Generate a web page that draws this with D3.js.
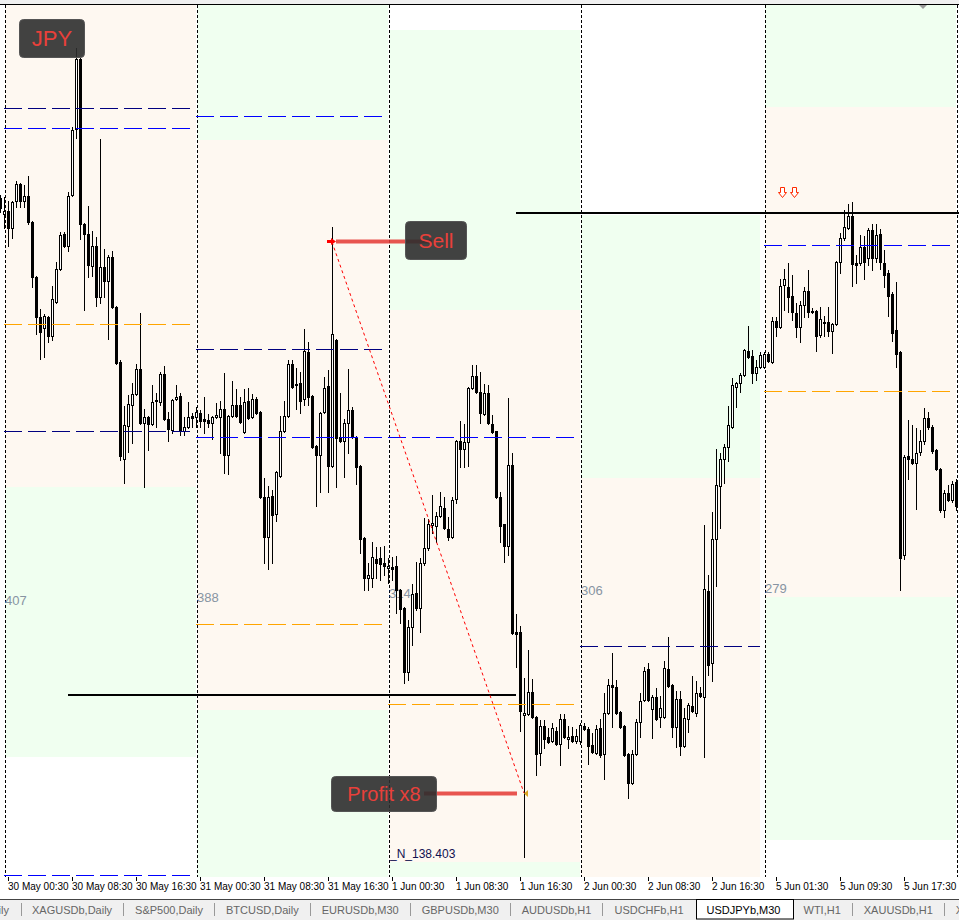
<!DOCTYPE html>
<html>
<head>
<meta charset="utf-8">
<script src="https://cdnjs.cloudflare.com/ajax/libs/d3/7.8.5/d3.min.js"></script>
<style>
  html, body { margin: 0; padding: 0; background: #fff; }
  svg { display: block; font-family: "Liberation Sans", Arial, sans-serif; }
</style>
</head>
<body>
<svg id="chart" width="959" height="920"></svg>
<script>
// USDJPYb M30 candles, [open, high, low, close]
const may29 = [[140.421,140.430,140.379,140.391]];
const may30 = [
  [140.373,140.424,140.331,140.382],[140.382,140.412,140.277,140.331],[140.331,140.412,140.301,140.409],[140.412,140.472,140.394,140.463],
  [140.463,140.466,140.394,140.412],[140.412,140.460,140.394,140.427],[140.427,140.487,140.343,140.349],[140.349,140.352,140.154,140.184],
  [140.184,140.187,140.013,140.064],[140.064,140.088,139.938,140.019],[140.031,140.073,139.944,140.067],[140.064,140.067,139.989,140.007],
  [140.007,140.157,139.995,140.118],[140.109,140.229,140.106,140.208],[140.208,140.319,140.205,140.310],[140.313,140.319,140.274,140.277],
  [140.277,140.439,140.262,140.427],[140.430,140.634,140.427,140.625],[140.628,140.871,140.601,140.838],[140.838,140.841,140.298,140.343],
  [140.343,140.346,140.085,140.313],[140.313,140.397,140.184,140.220],[140.217,140.322,140.187,140.277],[140.277,140.304,140.097,140.124],
  [140.124,140.598,140.106,140.214],[140.214,140.268,140.124,140.172],[140.172,140.250,139.998,140.244],[140.244,140.262,140.091,140.094],
  [140.094,140.097,139.923,139.926],[139.929,139.935,139.635,139.647],[139.638,139.797,139.566,139.740],[139.737,139.830,139.659,139.803],
  [139.800,139.866,139.686,139.833],[139.833,139.923,139.830,139.908],[139.908,140.076,139.743,139.746],[139.746,139.788,139.554,139.764],
  [139.764,139.767,139.665,139.743],[139.743,139.860,139.740,139.809],[139.812,139.836,139.734,139.815],[139.809,139.899,139.800,139.893],
  [139.893,139.917,139.755,139.758],[139.758,139.779,139.692,139.728],[139.725,139.818,139.716,139.815],[139.818,139.860,139.815,139.824],
  [139.827,139.836,139.710,139.722],[139.722,139.764,139.710,139.734],[139.734,139.809,139.731,139.764],[139.767,139.776,139.734,139.761]
];
const may31 = [
  [139.764,139.794,139.734,139.779],[139.776,139.785,139.734,139.752],[139.758,139.824,139.716,139.752],[139.755,139.773,139.734,139.746],
  [139.746,139.767,139.698,139.764],[139.764,139.806,139.761,139.770],[139.764,139.812,139.656,139.788],[139.788,139.896,139.596,139.650],
  [139.650,139.770,139.593,139.767],[139.767,139.872,139.764,139.800],[139.800,139.848,139.764,139.767],[139.800,139.824,139.746,139.749],
  [139.719,139.848,139.716,139.809],[139.812,139.851,139.758,139.761],[139.764,139.833,139.761,139.818],[139.818,139.824,139.773,139.776],
  [139.779,139.782,139.521,139.524],[139.524,139.581,139.326,139.404],[139.404,139.557,139.308,139.524],[139.527,139.545,139.326,139.470],
  [139.473,139.602,139.452,139.599],[139.587,139.767,139.584,139.722],[139.722,139.812,139.719,139.767],[139.767,139.935,139.764,139.923],
  [139.923,139.935,139.851,139.854],[139.860,139.911,139.788,139.863],[139.866,139.899,139.776,139.812],[139.818,140.028,139.800,139.962],
  [139.959,139.989,139.800,139.824],[139.827,139.830,139.671,139.674],[139.677,139.680,139.497,139.650],[139.650,139.779,139.539,139.776],
  [139.779,139.884,139.776,139.851],[139.857,139.905,139.539,139.617],[139.617,140.334,139.614,140.013],[139.995,139.998,139.554,139.701],
  [139.704,139.836,139.690,139.692],[139.692,139.758,139.584,139.746],[139.746,139.908,139.656,139.785],[139.785,139.794,139.701,139.704],
  [139.704,139.707,139.563,139.614],[139.617,139.620,139.356,139.398],[139.401,139.404,139.245,139.281],[139.281,139.326,139.245,139.290],
  [139.281,139.389,139.254,139.344],[139.338,139.374,139.281,139.326],[139.341,139.374,139.275,139.323],[139.326,139.377,139.290,139.317]
];
const jun1 = [
  [139.311,139.341,139.266,139.317],[139.314,139.344,139.275,139.308],[139.317,139.347,139.176,139.245],[139.245,139.248,139.146,139.188],
  [139.191,139.194,138.966,138.999],[138.999,139.155,138.975,139.134],[139.134,139.263,139.080,139.233],[139.236,139.329,139.185,139.191],
  [139.191,139.341,139.119,139.326],[139.326,139.461,139.320,139.371],[139.371,139.458,139.365,139.443],[139.440,139.530,139.416,139.446],
  [139.437,139.479,139.389,139.467],[139.467,139.539,139.464,139.497],[139.491,139.524,139.428,139.431],[139.428,139.464,139.395,139.404],
  [139.404,139.524,139.401,139.515],[139.518,139.695,139.506,139.692],[139.692,139.752,139.614,139.668],[139.668,139.743,139.614,139.689],
  [139.689,139.854,139.617,139.851],[139.851,139.920,139.848,139.887],[139.887,139.920,139.836,139.839],[139.839,139.899,139.746,139.776],
  [139.773,139.863,139.770,139.836],[139.836,139.860,139.743,139.746],[139.743,139.770,139.716,139.719],[139.722,139.722,139.521,139.524],
  [139.524,139.539,139.389,139.437],[139.443,139.443,139.329,139.377],[139.377,139.821,139.350,139.620],[139.620,139.656,139.113,139.116],
  [139.119,139.173,139.014,139.113],[139.119,139.137,138.822,138.882],[138.870,138.981,138.444,138.876],[138.873,139.065,138.870,138.939],
  [138.939,138.978,138.861,138.864],[138.864,138.867,138.690,138.753],[138.756,138.855,138.720,138.837],[138.837,138.855,138.771,138.798],
  [138.804,138.831,138.786,138.789],[138.792,138.846,138.789,138.831],[138.822,138.834,138.780,138.783],[138.783,138.873,138.720,138.858],
  [138.858,138.873,138.801,138.804],[138.798,138.837,138.771,138.804],[138.807,138.834,138.789,138.792],[138.792,138.828,138.786,138.807]
];
const jun2 = [
  [138.792,138.846,138.783,138.840],[138.837,138.846,138.825,138.828],[138.828,138.834,138.723,138.777],[138.780,138.816,138.756,138.759],
  [138.756,138.840,138.753,138.828],[138.831,138.858,138.744,138.750],[138.753,138.936,138.678,138.876],[138.876,138.978,138.873,138.960],
  [138.960,139.056,138.834,138.954],[138.954,138.975,138.873,138.876],[138.879,138.882,138.831,138.834],[138.837,138.840,138.747,138.750],
  [138.753,138.756,138.621,138.666],[138.666,138.765,138.663,138.753],[138.753,138.858,138.750,138.849],[138.849,138.936,138.804,138.912],
  [138.915,139.014,138.912,139.002],[139.008,139.026,138.912,138.915],[138.888,138.930,138.801,138.924],[138.924,138.951,138.855,138.858],
  [138.864,138.927,138.834,138.891],[138.864,139.032,138.861,139.011],[139.008,139.104,138.954,138.957],[138.960,138.963,138.804,138.834],
  [138.834,138.942,138.774,138.918],[138.918,138.942,138.750,138.777],[138.777,138.891,138.774,138.861],[138.858,138.906,138.819,138.900],
  [138.897,138.987,138.879,138.882],[138.876,138.972,138.867,138.936],[138.936,138.954,138.924,138.927],[138.924,139.440,138.744,139.248],
  [139.242,139.290,138.990,139.020],[139.026,139.479,138.972,139.398],[139.398,139.668,139.257,139.560],[139.557,139.656,139.431,139.638],
  [139.638,139.683,139.566,139.674],[139.674,139.797,139.632,139.740],[139.734,139.881,139.731,139.860],[139.854,139.869,139.794,139.866],
  [139.866,139.896,139.839,139.890],[139.890,139.968,139.887,139.965],[139.962,140.037,139.941,139.944],[139.947,139.965,139.866,139.896],
  [139.896,139.935,139.875,139.914],[139.914,139.959,139.911,139.950]
];
const jun5 = [
  [139.914,139.959,139.911,139.953],[139.953,139.959,139.929,139.932],[139.929,140.064,139.926,140.052],[140.052,140.064,140.007,140.034],
  [140.034,140.178,140.031,140.157],[140.160,140.208,140.085,140.178],[140.154,140.226,140.079,140.124],[140.127,140.190,140.055,140.079],
  [140.076,140.106,140.004,140.034],[140.034,140.112,139.989,140.100],[140.100,140.154,140.064,140.142],[140.142,140.205,140.064,140.079],
  [140.079,140.091,140.076,140.082],[140.082,140.085,139.962,140.007],[140.010,140.094,140.004,140.058],[140.046,140.067,140.007,140.049],
  [140.049,140.094,140.007,140.022],[140.022,140.046,139.956,140.043],[140.043,140.232,140.040,140.229],[140.229,140.316,140.196,140.301],
  [140.301,140.385,140.295,140.334],[140.331,140.403,140.328,140.367],[140.367,140.409,140.157,140.223],[140.226,140.250,140.166,140.220],
  [140.226,140.310,140.220,140.274],[140.274,140.307,140.178,140.229],[140.241,140.331,140.220,140.325],[140.325,140.343,140.205,140.241],
  [140.241,140.343,140.229,140.310],[140.313,140.328,140.208,140.229],[140.226,140.265,140.154,140.190],[140.196,140.205,140.067,140.127],
  [140.133,140.139,139.992,140.016],[140.025,140.169,139.914,139.953],[139.959,139.962,139.245,139.341],[139.350,139.650,139.338,139.644],
  [139.647,139.755,139.578,139.638],[139.638,139.740,139.623,139.626],[139.626,139.731,139.488,139.656],[139.659,139.725,139.650,139.692],
  [139.692,139.791,139.683,139.761],[139.761,139.779,139.728,139.734],[139.734,139.740,139.656,139.662],[139.665,139.668,139.605,139.608],
  [139.608,139.611,139.479,139.485],[139.485,139.545,139.464,139.536],[139.536,139.560,139.512,139.515],[139.515,139.572,139.509,139.563]
];
const jun6 = [[139.569,139.578,139.485,139.497]];

// days: first bar / last bar index, day separators
const daySpans = [[1,49],[49,97],[97,145],[145,190],[191,239]];
const separators = [1,49,97,145,191,239];
const dayRangeText = ["407","388","314","306","279"];
const dayRangePrice = [139.200,139.209,139.221,139.230,139.236];

// day zones (outer = green, inner = peach)
const zoneOuterHigh = [141.1,141.1,140.925,140.370,141.1];
const zoneOuterLow  = [138.744,138.3,138.3,138.3,138.495];
const zoneInnerHigh = [141.1,140.595,140.085,139.581,140.694];
const zoneInnerLow  = [139.554,138.885,138.429,138.3,139.224];

// dashed day levels: [day, price]
const navyLevels   = [[0,140.691],[0,139.722],[1,139.968],[3,139.077]];
const blueLevels   = [[0,140.631],[0,138.390],[1,140.667],[1,139.704],[2,139.704],[4,140.280]];
const orangeLevels = [[0,140.043],[1,139.143],[2,138.903],[4,139.842]];

// solid horizontal lines: [price, fromBar, toBar]
const solidLines = [[140.379,129,240],[138.933,17,129]];

// trade
const sellBar = 83, sellPrice = 140.292;
const closeBar = 131, closePrice = 138.636;
const signalBars = [195,198], signalPrice = 140.454;
const noteText = "_N_138.403", noteBar = 97, notePrice = 138.441;

// time axis
const tickBars = [2,18,34,50,66,82,98,114,130,146,162,178,194,210,226];
const tickLabels = ["30 May 00:30","30 May 08:30","30 May 16:30","31 May 00:30","31 May 08:30","31 May 16:30",
  "1 Jun 00:30","1 Jun 08:30","1 Jun 16:30","2 Jun 00:30","2 Jun 08:30","2 Jun 16:30","5 Jun 01:30","5 Jun 09:30","5 Jun 17:30"];

// terminal tabs
const tabNames = ["XAGUSDb,Daily","S&P500,Daily","BTCUSD,Daily","EURUSDb,M30","GBPUSDb,M30","AUDUSDb,H1",
  "USDCHFb,H1","USDJPYb,M30","WTI,H1","XAUUSDb,H1","XPTUSD,H1"];
const activeTab = "USDJPYb,M30";

const W = 959, H = 920;
const plotTop = 5, plotBottom = 877;

const xs = d3.scaleLinear().domain([0, 240]).range([0, 960]);
const ys = d3.scaleLinear().domain([141.000, 138.387]).range([5, 876]);
const py = v => Math.round(ys(v));

const bars = [].concat(may29, may30, may31, jun1, jun2, jun5, jun6)
  .map((d, i) => ({i: i, o: d[0], h: d[1], l: d[2], c: d[3]}));

const svg = d3.select("#chart");

svg.append("rect").attr("width", W).attr("height", H).attr("fill", "#fff");
svg.append("rect").attr("width", W).attr("height", 4).attr("fill", "#f0f0f0");

svg.append("clipPath").attr("id", "plotClip")
  .append("rect").attr("x", 0).attr("y", plotTop).attr("width", W).attr("height", plotBottom - plotTop);

const plot = svg.append("g").attr("clip-path", "url(#plotClip)");

// zones
plot.selectAll(".zoneOuter").data(daySpans).join("rect")
  .attr("class", "zoneOuter")
  .attr("x", d => xs(d[0]) + 1)
  .attr("width", d => xs(d[1]) - xs(d[0]) - 1)
  .attr("y", (d, i) => py(zoneOuterHigh[i]))
  .attr("height", (d, i) => py(zoneOuterLow[i]) - py(zoneOuterHigh[i]))
  .attr("fill", "#f0fff0");

plot.selectAll(".zoneInner").data(daySpans).join("rect")
  .attr("class", "zoneInner")
  .attr("x", d => xs(d[0]) + 1)
  .attr("width", d => xs(d[1]) - xs(d[0]) - 1)
  .attr("y", (d, i) => py(zoneInnerHigh[i]))
  .attr("height", (d, i) => py(zoneInnerLow[i]) - py(zoneInnerHigh[i]))
  .attr("fill", "#fef8f1");

// day separators
plot.selectAll(".sep").data(separators).join("line")
  .attr("class", "sep")
  .attr("x1", d => xs(d) + 1.5).attr("x2", d => xs(d) + 1.5)
  .attr("y1", plotTop).attr("y2", plotBottom)
  .attr("stroke", "#000")
  .attr("stroke-dasharray", "3,2");

// day range numbers
plot.selectAll(".dayRange").data(dayRangeText).join("text")
  .attr("class", "dayRange")
  .attr("x", (d, i) => xs(daySpans[i][0]) + 1)
  .attr("y", (d, i) => py(dayRangePrice[i]))
  .attr("font-size", "13px")
  .attr("fill", "#8794a2")
  .text(d => d);

// solid lines
plot.selectAll(".solid").data(solidLines).join("line")
  .attr("class", "solid")
  .attr("x1", d => xs(d[1])).attr("x2", d => xs(d[2]))
  .attr("y1", d => py(d[0]) + 1).attr("y2", d => py(d[0]) + 1)
  .attr("stroke", "#000").attr("stroke-width", 2);

// candles
const candle = plot.selectAll(".candle").data(bars).join("g").attr("class", "candle");

candle.append("line")
  .attr("x1", d => xs(d.i) + 0.5).attr("x2", d => xs(d.i) + 0.5)
  .attr("y1", d => py(d.h)).attr("y2", d => py(d.l) + 1)
  .attr("stroke", "#000");

candle.filter(d => d.c < d.o).append("rect")
  .attr("x", d => xs(d.i) - 1)
  .attr("y", d => py(d.o))
  .attr("width", 3)
  .attr("height", d => Math.max(py(d.c) - py(d.o), 0) + 1)
  .attr("fill", "#000");

candle.filter(d => d.c >= d.o && py(d.o) - py(d.c) >= 1).append("rect")
  .attr("x", d => xs(d.i) - 0.5)
  .attr("y", d => py(d.c) + 0.5)
  .attr("width", 2)
  .attr("height", d => py(d.o) - py(d.c))
  .attr("fill", "#fff")
  .attr("stroke", "#000");

candle.filter(d => d.c >= d.o && py(d.o) - py(d.c) < 1).append("line")
  .attr("x1", d => xs(d.i) - 1).attr("x2", d => xs(d.i) + 2)
  .attr("y1", d => py(d.c) + 0.5).attr("y2", d => py(d.c) + 0.5)
  .attr("stroke", "#000");

// dashed levels
function drawLevels(list, color, cls) {
  plot.selectAll("." + cls).data(list).join("line")
    .attr("class", cls)
    .attr("x1", d => xs(daySpans[d[0]][0])).attr("x2", d => xs(daySpans[d[0]][1]))
    .attr("y1", d => py(d[1]) + 0.5).attr("y2", d => py(d[1]) + 0.5)
    .attr("stroke", color)
    .attr("stroke-dasharray", "18,6");
}
drawLevels(navyLevels, "#000080", "navyLevel");
drawLevels(blueLevels, "#0000ff", "blueLevel");
drawLevels(orangeLevels, "#ffa500", "orangeLevel");

// trade
const sx = xs(sellBar), sy = py(sellPrice);
const cx = xs(closeBar), cy = py(closePrice);

plot.append("line")
  .attr("x1", sx).attr("y1", sy + 1).attr("x2", cx).attr("y2", cy)
  .attr("stroke", "#ff0000").attr("stroke-dasharray", "3,3");

plot.append("line")
  .attr("x1", sx + 4).attr("x2", sx + 100)
  .attr("y1", sy + 0.5).attr("y2", sy + 0.5)
  .attr("stroke", "#e53935").attr("stroke-width", 4).attr("opacity", 0.85);

plot.append("line")
  .attr("x1", cx - 100).attr("x2", cx - 7)
  .attr("y1", cy + 0.5).attr("y2", cy + 0.5)
  .attr("stroke", "#e53935").attr("stroke-width", 4).attr("opacity", 0.85);

plot.append("path")
  .attr("d", `M${sx - 5},${sy - 1} H${sx - 1} V${sy - 3} L${sx + 4},${sy + 0.5} L${sx - 1},${sy + 4} V${sy + 2} H${sx - 5} Z`)
  .attr("fill", "#ff0000");

plot.append("path")
  .attr("d", `M${cx},${cy + 0.5} L${cx + 4},${cy - 3} L${cx + 4},${cy + 4} Z`)
  .attr("fill", "#daa520");

// signal arrows
plot.selectAll(".signal").data(signalBars).join("path")
  .attr("class", "signal")
  .attr("transform", d => `translate(${xs(d) + 2.5},${py(signalPrice) + 0.5})`)
  .attr("d", "M-2,0 H2 V5 H4 L0,10 L-4,5 H-2 Z")
  .attr("fill", "#fff")
  .attr("stroke", "#ff2a00");

plot.append("text")
  .attr("x", xs(noteBar) + 2).attr("y", py(notePrice))
  .attr("font-size", "12px").attr("fill", "#101050")
  .text(noteText);

// label boxes
function labelBox(x, y, w, h, txt, size) {
  plot.append("rect")
    .attr("x", x + 0.5).attr("y", y + 0.5).attr("width", w).attr("height", h)
    .attr("rx", 4)
    .attr("fill", "#2e2e2e").attr("fill-opacity", 0.9)
    .attr("stroke", "#555");
  plot.append("text")
    .attr("x", x + w / 2 + 0.5).attr("y", y + h / 2 + size * 0.36)
    .attr("text-anchor", "middle")
    .attr("font-size", size + "px")
    .attr("fill", "#e8403a")
    .text(txt);
}
labelBox(19, 19, 65, 38, "JPY", 22);
labelBox(sx + 73, sy - 20, 61, 38, "Sell", 21);
labelBox(cx - 193, cy - 17, 105, 35, "Profit x8", 20);

// top frame and shift marker
svg.append("line").attr("x1", 0).attr("x2", W).attr("y1", 4.5).attr("y2", 4.5).attr("stroke", "#000");
svg.append("path").attr("d", "M919,5 H927 L923,9 Z").attr("fill", "#999");

// time axis
svg.selectAll(".tick").data(tickBars).join("line")
  .attr("class", "tick")
  .attr("x1", d => xs(d) + 0.5).attr("x2", d => xs(d) + 0.5)
  .attr("y1", plotBottom).attr("y2", plotBottom + 4)
  .attr("stroke", "#000");

svg.selectAll(".tickLabel").data(tickLabels).join("text")
  .attr("class", "tickLabel")
  .attr("x", (d, i) => xs(tickBars[i]))
  .attr("y", 890)
  .attr("font-size", "10px")
  .attr("fill", "#000")
  .text(d => d);

// tab bar
svg.append("rect").attr("x", 0).attr("y", 899).attr("width", W).attr("height", 21).attr("fill", "#f0f0f0");
svg.append("line").attr("x1", 0).attr("x2", W).attr("y1", 899.5).attr("y2", 899.5).attr("stroke", "#444");

const tabs = svg.append("g");
tabs.append("text").attr("x", 9).attr("y", 914).attr("text-anchor", "end")
  .attr("font-size", "11px").attr("fill", "#666").text("Daily");

let tx = 32;
const tabSep = [21.5];
tabNames.forEach((name, i) => {
  const isActive = name === activeTab;
  const t = tabs.append("text")
    .attr("x", tx).attr("y", 914)
    .attr("font-size", "11px")
    .attr("fill", isActive ? "#000" : "#666")
    .text(name);
  const w = t.node().getComputedTextLength();
  if (isActive) {
    tabs.insert("rect", "text")
      .attr("x", Math.round(tx - 11) + 0.5).attr("y", 899.5)
      .attr("width", Math.round(w + 23)).attr("height", 19.5)
      .attr("fill", "#fff").attr("stroke", "#000");
  }
  const next = tabNames[i + 1];
  if (next && !isActive && next !== activeTab) tabSep.push(Math.round(tx + w + 11) + 0.5);
  tx += w + 23;
});

tabs.selectAll(".tabSep").data(tabSep).join("line")
  .attr("class", "tabSep")
  .attr("x1", d => d).attr("x2", d => d)
  .attr("y1", 903).attr("y2", 916)
  .attr("stroke", "#999");
</script>
</body>
</html>
